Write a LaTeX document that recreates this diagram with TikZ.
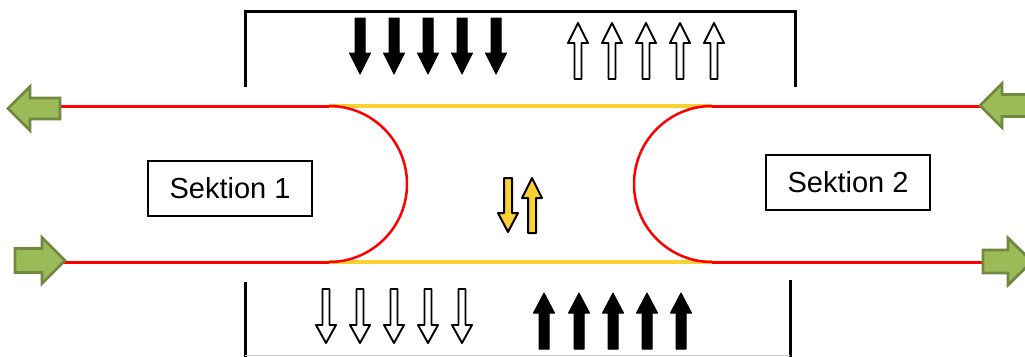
\documentclass[tikz,border=0pt]{standalone}
\usepackage{fontspec}
\setmainfont{Liberation Sans}
\definecolor{gfill}{RGB}{155,187,89}
\definecolor{gdraw}{RGB}{113,137,63}
\definecolor{ylw}{RGB}{250,208,50}
\definecolor{ared}{RGB}{255,0,0}
\newcommand\vArrow[7]{\filldraw[#7] (#1-#5,#2) -- (#1-#5,#3) -- (#1-#6,#3) -- (#1,#4) -- (#1+#6,#3) -- (#1+#5,#3) -- (#1+#5,#2) -- cycle;}
\newcommand\hArrow[7]{\filldraw[#7] (#1,#2-#5) -- (#3,#2-#5) -- (#3,#2-#6) -- (#4,#2) -- (#3,#2+#6) -- (#3,#2+#5) -- (#1,#2+#5) -- cycle;}
\tikzset{
  wall/.style={line width=3pt, black},
  redline/.style={line width=3pt, ared},
  ylwline/.style={line width=3.2pt, ylw},
  curve/.style={line width=2.5pt, ared},
  blackarrow/.style={fill=black, draw=black, line width=1pt, line join=round},
  whitearrow/.style={fill=white, draw=black, line width=1.9pt, line join=round},
  ylwarrow/.style={fill=ylw, draw=black, line width=2pt, line join=round},
  greenarrow/.style={fill=gfill, draw=gdraw, line width=2.8pt, line join=miter},
  secbox/.style={draw=black, line width=1.2pt, minimum width=164pt, minimum height=55pt, inner sep=0pt, font=\fontsize{29}{34}\selectfont},
}
\begin{document}
\begin{tikzpicture}[x=1pt, y=-1pt]
\useasboundingbox (0,0) rectangle (1025,356);
\clip (0,0) rectangle (1025,356);
\fill[white] (0,0) rectangle (1025,356);
% walls
\draw[wall] (245,87) -- (245,11) -- (795,11) -- (795,87);
\draw[wall] (245,282) -- (245,357);
\draw[wall] (790,280) -- (790,357);
\draw[gray!40, line width=1pt] (245,355.5) -- (790,355.5);
% channel lines
\draw[redline] (60,106) -- (329,106);
\draw[ylwline] (329,106) -- (712,106);
\draw[redline] (712,106) -- (985,106);
\draw[redline] (60,262) -- (329,262);
\draw[ylwline] (329,262) -- (712,262);
\draw[redline] (712,262) -- (985,262);
% curves
\draw[curve] (329,106) arc[start angle=-90, end angle=90, radius=78];
\draw[curve] (712,106) arc[start angle=-90, end angle=-270, radius=78];
% section boxes
\node[secbox] (s1) at (230,188.5) {Sektion 1};
\node[secbox] (s2) at (848,182.5) {Sektion 2};
% top arrows
\foreach \x in {360,394,428,462,496} {\vArrow{\x}{18}{53}{74}{5}{10.5}{blackarrow}}
\foreach \x in {578,612,646,680,714} {\vArrow{\x}{79}{43}{23}{3.5}{10}{whitearrow}}
% bottom arrows
\foreach \x in {326,360,394,428,462} {\vArrow{\x}{289}{325}{343}{3.5}{10}{whitearrow}}
\foreach \x in {544,579,613,647,681} {\vArrow{\x}{349}{313}{293}{5}{10.5}{blackarrow}}
% yellow arrows
\vArrow{508}{178}{213}{232}{4}{10}{ylwarrow}
\vArrow{532}{233}{198}{178}{4}{10}{ylwarrow}
% green arrows
\hArrow{60}{108.5}{30}{8}{10.5}{22}{greenarrow}
\hArrow{15}{260.5}{42}{65}{12}{23}{greenarrow}
\hArrow{1040}{105.5}{1002}{980}{11}{22}{greenarrow}
\hArrow{983}{261.5}{1008}{1032}{11.5}{23.5}{greenarrow}
\end{tikzpicture}
\end{document}
